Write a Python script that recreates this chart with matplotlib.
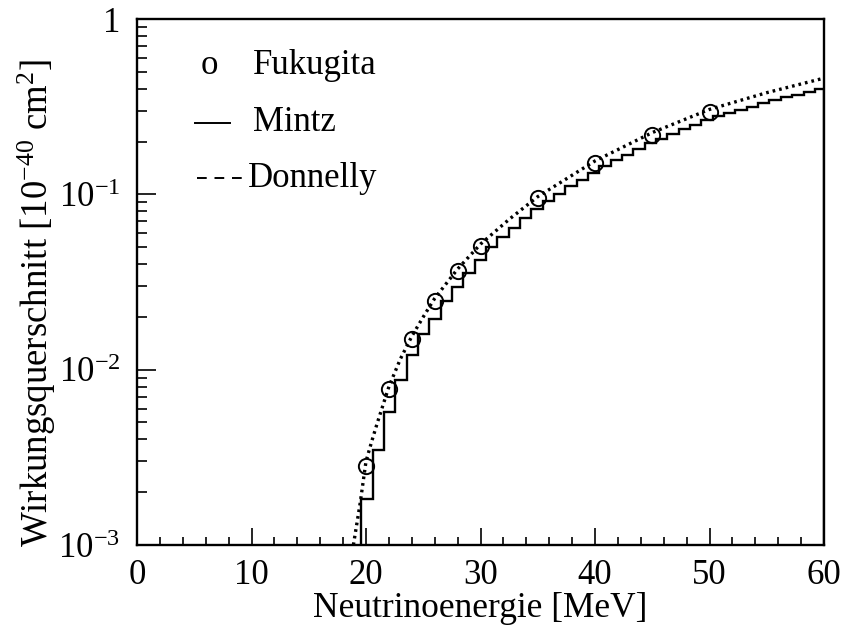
import numpy as np
import matplotlib
matplotlib.use("Agg")
import matplotlib.pyplot as plt
from matplotlib.lines import Line2D
from matplotlib.ticker import MultipleLocator, FixedLocator, FixedFormatter, LogLocator, NullFormatter

# Serif look for all text, including the math superscripts
plt.rcParams['font.family'] = 'Liberation Serif'
plt.rcParams['mathtext.fontset'] = 'custom'
plt.rcParams['mathtext.rm'] = 'Liberation Serif'
plt.rcParams['mathtext.it'] = 'Liberation Serif:italic'
plt.rcParams['mathtext.bf'] = 'Liberation Serif:bold'

# Fukugita: calculated cross sections (10^-40 cm^2)
fuku_e = [20, 22, 24, 26, 28, 30, 35, 40, 45, 50]
fuku_sigma = [2.83e-3, 7.8e-3, 1.49e-2, 2.47e-2, 3.66e-2, 5.07e-2, 0.0949, 0.151, 0.218, 0.296]

# Donnelly: smooth curve
donn_e = [18.9, 19.5, 20, 20.5, 21, 22, 23, 24, 25, 26, 28, 30, 32.5, 35, 40, 45, 50, 55, 60]
donn_sigma = [1.0e-3, 1.75e-3, 3.0e-3, 3.9e-3, 5.0e-3, 8.0e-3, 1.15e-2, 1.55e-2, 2.0e-2, 2.55e-2,
              3.75e-2, 5.2e-2, 7.2e-2, 0.097, 0.155, 0.225, 0.305, 0.38, 0.46]

# Mintz: histogram in ~1 MeV bins starting at 19.6 MeV
mintz_edges = list(np.round(np.linspace(19.6, 59.2, 41), 2)) + [60.0]
mintz_sigma = [1.83e-3, 3.5e-3, 5.75e-3, 8.7e-3, 1.21e-2, 1.6e-2, 1.95e-2, 2.45e-2, 2.95e-2, 3.55e-2,
               4.2e-2, 5.0e-2, 5.7e-2, 6.45e-2, 7.3e-2, 8.25e-2, 9.15e-2, 0.101, 0.111, 0.1215,
               0.133, 0.145, 0.156, 0.168, 0.181, 0.195, 0.208, 0.222, 0.235, 0.249,
               0.264, 0.279, 0.291, 0.303, 0.316, 0.330, 0.344, 0.357, 0.371, 0.384,
               0.397]

fig = plt.figure(figsize=(8.42, 6.33), dpi=100)
ax = fig.add_axes([137 / 842, 88 / 633, 687 / 842, 526 / 633])

ax.stairs(mintz_sigma, mintz_edges, baseline=1e-4, color='black', linewidth=1.7)
ax.plot(donn_e, donn_sigma, color='black', linewidth=2.4, linestyle=(0, (0.8, 1.2)))
ax.plot(fuku_e, fuku_sigma, linestyle='none', marker='o', markersize=11,
        markerfacecolor='none', markeredgecolor='black', markeredgewidth=1.4)

ax.set_yscale('log')
ax.set_xlim(0, 60)
ax.set_ylim(1e-3, 1)

# ticks
ax.xaxis.set_major_locator(MultipleLocator(10))
ax.xaxis.set_minor_locator(MultipleLocator(2))
ax.yaxis.set_major_locator(FixedLocator([1e-3, 1e-2, 1e-1, 1]))
ax.yaxis.set_major_formatter(FixedFormatter([r'$10^{-3}$', r'$10^{-2}$', r'$10^{-1}$', '1']))
ax.yaxis.set_minor_locator(LogLocator(base=10, subs=np.arange(2, 10), numticks=20))
ax.yaxis.set_minor_formatter(NullFormatter())
ax.tick_params(which='both', direction='in', top=False, right=False, width=1.2, labelsize=25)
ax.tick_params(which='major', axis='x', length=12, pad=10)
ax.tick_params(which='minor', axis='x', length=6)
ax.tick_params(which='major', axis='y', length=14, pad=12)
ax.tick_params(which='minor', axis='y', length=7)
for s in ax.spines.values():
    s.set_linewidth(1.7)

ax.set_xlabel('Neutrinoenergie [MeV]', fontsize=25.5, labelpad=0)
ax.set_ylabel(r'Wirkungsquerschnitt [10$^{-40}$ cm$^{2}$]', fontsize=26.5)
ax.yaxis.set_label_coords(-0.115, 0.46)

# hand-made key in the upper left corner
ax.text(0.106, 0.912, 'o', transform=ax.transAxes, fontsize=25, ha='center', va='center')
ax.text(0.169, 0.912, 'Fukugita', transform=ax.transAxes, fontsize=25, ha='left', va='center')
ax.add_line(Line2D([0.085, 0.135], [0.803, 0.803], transform=ax.transAxes, color='black', linewidth=1.4))
ax.text(0.169, 0.803, 'Mintz', transform=ax.transAxes, fontsize=25, ha='left', va='center')
ax.add_line(Line2D([0.087, 0.157], [0.697, 0.697], transform=ax.transAxes, color='black',
                   linewidth=1.4, linestyle=(0, (5, 4))))
ax.text(0.162, 0.697, 'Donnelly', transform=ax.transAxes, fontsize=25, ha='left', va='center')

fig.savefig('out.png', dpi=100)
